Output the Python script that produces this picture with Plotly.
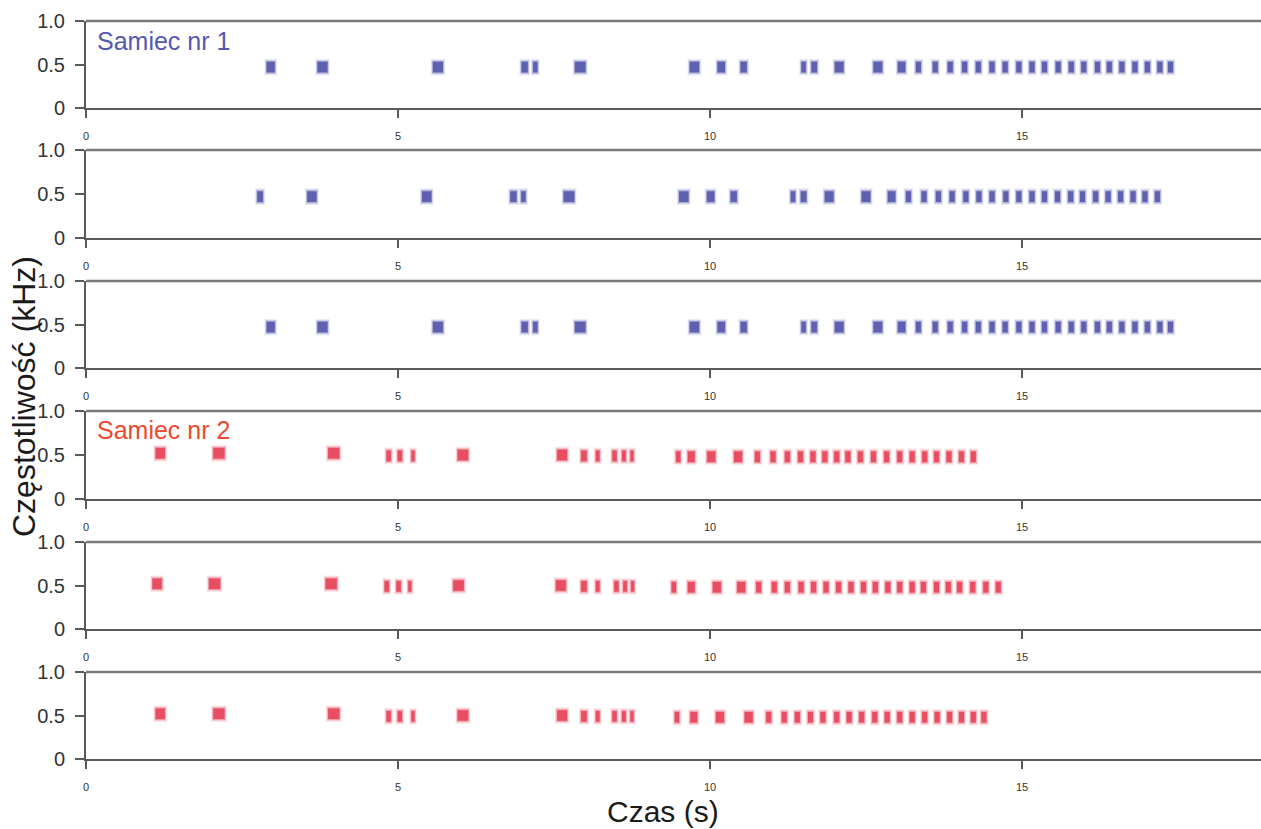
import plotly.graph_objects as go

# ---------------- data (time in s, frequency in kHz) ----------------
male1_a_times = [2.96, 3.79, 5.64, 7.03, 7.20, 7.92, 9.75, 10.18, 10.54, 11.50, 11.67, 12.07, 12.69, 13.07,
                 13.34, 13.61, 13.85, 14.08, 14.30, 14.52, 14.73, 14.95, 15.16, 15.36, 15.58, 15.79, 15.99,
                 16.21, 16.40, 16.60, 16.81, 17.01, 17.21, 17.38]
male1_a_durs = [0.13, 0.16, 0.16, 0.10, 0.07, 0.17, 0.15, 0.12, 0.10, 0.07, 0.09, 0.14, 0.14, 0.12] + [0.08] * 20

male1_b_times = [2.79, 3.62, 5.46, 6.85, 7.01, 7.74, 9.58, 10.01, 10.38, 11.33, 11.50, 11.91, 12.50, 12.91,
                 13.18, 13.43, 13.66, 13.88, 14.10, 14.31, 14.52, 14.74, 14.95, 15.16, 15.36, 15.57, 15.78,
                 15.97, 16.18, 16.38, 16.58, 16.78, 16.97, 17.17]
male1_b_durs = [0.09, 0.15, 0.15, 0.10, 0.07, 0.17, 0.15, 0.12, 0.10, 0.07, 0.09, 0.14, 0.14, 0.12] + [0.08] * 20

male1_c_times = [2.96, 3.79, 5.64, 7.03, 7.20, 7.92, 9.75, 10.18, 10.54, 11.50, 11.67, 12.07, 12.69, 13.07,
                 13.34, 13.61, 13.85, 14.08, 14.30, 14.52, 14.73, 14.95, 15.16, 15.36, 15.58, 15.79, 15.99,
                 16.21, 16.40, 16.60, 16.81, 17.01, 17.21, 17.38]
male1_c_durs = [0.13, 0.16, 0.16, 0.10, 0.07, 0.17, 0.15, 0.12, 0.10, 0.07, 0.09, 0.14, 0.14, 0.12] + [0.08] * 20

male1_freq = 0.47

male2_a_times = [1.19, 2.13, 3.97, 4.85, 5.03, 5.24, 6.04, 7.63, 7.98, 8.20, 8.47, 8.62, 8.75, 9.49, 9.70,
                 10.02, 10.45, 10.76, 11.01, 11.24, 11.45, 11.65, 11.84, 12.03, 12.21, 12.41, 12.62, 12.83,
                 13.04, 13.24, 13.44, 13.63, 13.83, 14.03, 14.22]
male2_b_times = [1.14, 2.06, 3.93, 4.82, 5.01, 5.19, 5.97, 7.61, 7.98, 8.20, 8.50, 8.64, 8.76, 9.42, 9.70,
                 10.11, 10.50, 10.78, 11.03, 11.24, 11.46, 11.66, 11.86, 12.06, 12.26, 12.46, 12.65, 12.85,
                 13.04, 13.24, 13.42, 13.63, 13.82, 14.00, 14.21, 14.42, 14.62]
male2_c_times = [1.19, 2.13, 3.97, 4.85, 5.03, 5.24, 6.04, 7.63, 7.98, 8.20, 8.47, 8.62, 8.75, 9.47, 9.74,
                 10.16, 10.62, 10.94, 11.19, 11.40, 11.61, 11.81, 12.03, 12.23, 12.43, 12.64, 12.84, 13.04,
                 13.24, 13.44, 13.64, 13.84, 14.03, 14.22, 14.39]
male2_early_durs = [0.15, 0.18, 0.18, 0.07, 0.07, 0.05, 0.17, 0.16, 0.09, 0.06, 0.07, 0.06, 0.05, 0.07, 0.11, 0.13, 0.13]
male2_early_freqs = [0.52, 0.52, 0.52, 0.49, 0.49, 0.49, 0.50, 0.50, 0.49, 0.49, 0.49, 0.49, 0.49, 0.48, 0.48, 0.48, 0.48]
male2_train_freq = 0.48

x_ticks = [0, 5, 10, 15]
y_ticks = [0, 0.5, 1.0]
y_ticktext = ["0", "0.5", "1.0"]
labels = ["Samiec nr 1", "Samiec nr 2"]
x_title = "Czas (s)"
y_title = "Częstotliwość (kHz)"

# ---------------- styling ----------------
W, H = 1261, 829
FONT = "Liberation Sans, Arial, sans-serif"
BLUE, BLUE_TXT = "#4a4ca6", "#5558b0"
RED, RED_TXT = "#e6364c", "#ec4a30"
AXC = "#5a5a5a"
X_LEFT = 86
PX_PER_S = 62.4
X_MAX = (W - X_LEFT) / PX_PER_S
panels_px = [(21, 108), (150, 238), (281, 368), (411, 499), (542, 629), (672, 759)]
BAND = 0.12
# (extra width s, extra height kHz, opacity) for soft blurred look
LAYERS = [(0.07, 0.07, 0.10), (0.045, 0.045, 0.18), (0.02, 0.02, 0.35), (0.0, 0.0, 0.75)]

def train(times, early_vals, fill):
    return list(early_vals) + [fill] * (len(times) - len(early_vals))

panels = [
    (male1_a_times, male1_a_durs, [male1_freq] * len(male1_a_times), BLUE),
    (male1_b_times, male1_b_durs, [male1_freq] * len(male1_b_times), BLUE),
    (male1_c_times, male1_c_durs, [male1_freq] * len(male1_c_times), BLUE),
    (male2_a_times, train(male2_a_times, male2_early_durs, 0.08), train(male2_a_times, male2_early_freqs, male2_train_freq), RED),
    (male2_b_times, train(male2_b_times, male2_early_durs, 0.08), train(male2_b_times, male2_early_freqs, male2_train_freq), RED),
    (male2_c_times, train(male2_c_times, male2_early_durs, 0.08), train(male2_c_times, male2_early_freqs, male2_train_freq), RED),
]

fig = go.Figure()
layout = dict(
    width=W, height=H, autosize=False,
    margin=dict(l=0, r=0, t=0, b=0, pad=0, autoexpand=False),
    paper_bgcolor="white", plot_bgcolor="white", showlegend=False,
    barmode="overlay", font=dict(family=FONT, color="#333333"),
)
shapes = []
for k, ((times, durs, freqs, col), (ptop, pbot)) in enumerate(zip(panels, panels_px), start=1):
    xa = "x" if k == 1 else f"x{k}"
    ya = "y" if k == 1 else f"y{k}"
    for dw, dh, op in LAYERS:
        hh = BAND + dh
        fig.add_trace(go.Bar(
            x=times, y=[hh] * len(times), base=[f - hh / 2 for f in freqs],
            width=[d + dw for d in durs], marker=dict(color=col, line=dict(width=0)), opacity=op,
            xaxis=xa, yaxis=ya, hoverinfo="skip"))
    layout[f"xaxis{k}"] = dict(
        domain=[X_LEFT / W, 1], range=[0, X_MAX], anchor=ya, automargin=False,
        tickvals=x_ticks, ticks="outside", ticklen=8, tickwidth=2, tickcolor=AXC,
        showline=True, linecolor=AXC, linewidth=2, showgrid=False, zeroline=False,
        tickfont=dict(size=11, color="#333333"), ticklabelstandoff=9, fixedrange=True)
    layout[f"yaxis{k}"] = dict(
        domain=[1 - pbot / H, 1 - ptop / H], range=[0, 1], anchor=xa, automargin=False,
        tickvals=y_ticks, ticktext=y_ticktext, ticks="outside", ticklen=9, tickwidth=2, tickcolor=AXC,
        showline=True, linecolor=AXC, linewidth=2, showgrid=False, zeroline=False,
        tickfont=dict(size=20, color="#333333"), ticklabelstandoff=6, fixedrange=True)
    shapes.append(dict(type="line", xref=f"{xa} domain", yref=f"{ya} domain",
                       x0=0, x1=1, y0=1, y1=1, line=dict(color="#7a7a7a", width=2.5)))

layout["shapes"] = shapes
layout["annotations"] = [
    dict(text=labels[0], x=95 / W, y=1 - 25 / H, xref="paper", yref="paper", xanchor="left", yanchor="top",
         showarrow=False, font=dict(size=25, color=BLUE_TXT, family=FONT)),
    dict(text=labels[1], x=95 / W, y=1 - 414 / H, xref="paper", yref="paper", xanchor="left", yanchor="top",
         showarrow=False, font=dict(size=25, color=RED_TXT, family=FONT)),
    dict(text=y_title, x=24 / W, y=1 - 397 / H, xref="paper", yref="paper", xanchor="center", yanchor="middle",
         textangle=-90, showarrow=False, font=dict(size=32, color="#1a1a1a", family=FONT)),
    dict(text=x_title, x=663 / W, y=0, xref="paper", yref="paper", xanchor="center", yanchor="bottom",
         showarrow=False, borderpad=0, font=dict(size=30, color="#1a1a1a", family=FONT)),
]
fig.update_layout(**layout)
fig.write_html("out.html", config={"displayModeBar": False})
